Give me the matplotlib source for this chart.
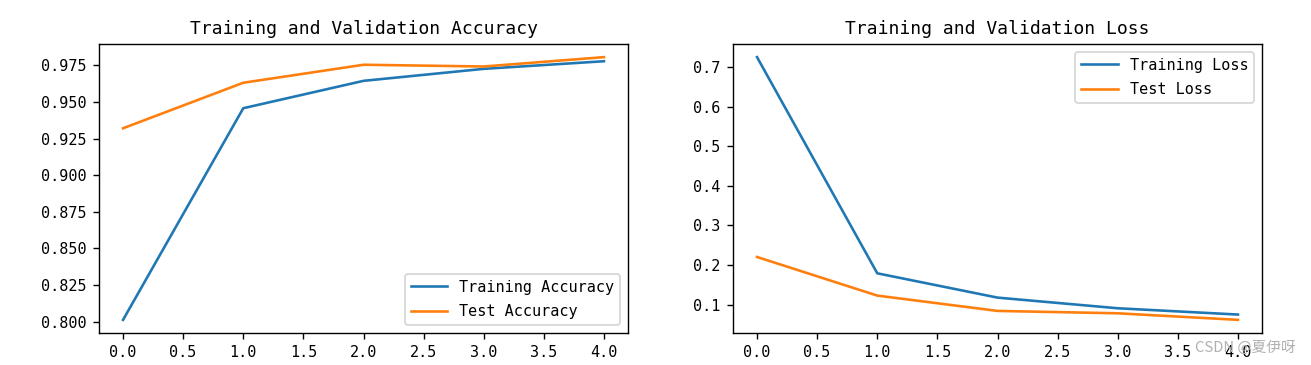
"""
training / validation accuracy and loss over 5 epochs
"""

from matplotlib import pyplot as plt

plt.rcParams['font.family'] = ['DejaVu Sans Mono', 'Noto Sans CJK SC']
plt.rcParams['axes.unicode_minus'] = False

epochs = [0, 1, 2, 3, 4]
train_acc = [0.8012, 0.9458, 0.9645, 0.9727, 0.9779]
test_acc = [0.9321, 0.9632, 0.9755, 0.9743, 0.9807]
train_loss = [0.725, 0.179, 0.1176, 0.0907, 0.0748]
test_loss = [0.2202, 0.1227, 0.0840, 0.0780, 0.0614]

plt.close('all')
fig = plt.figure(figsize=(1311/125., 365/125.), dpi=125)
W, H = 1311., 365.
ax1 = fig.add_axes([99/W, 1-333/H, (628-99)/W, (333-44)/H])
ax2 = fig.add_axes([733/W, 1-333/H, (1262-733)/W, (333-44)/H])

tick_fs = 8.7
title_fs = 10.4

ax1.plot(epochs, train_acc, label='Training Accuracy')
ax1.plot(epochs, test_acc, label='Test Accuracy')
ax1.legend(loc='lower right', fontsize=tick_fs, handlelength=2.4, labelspacing=0.65)
ax1.set_title('Training and Validation Accuracy', fontsize=title_fs)

ax2.plot(epochs, train_loss, label='Training Loss')
ax2.plot(epochs, test_loss, label='Test Loss')
ax2.legend(loc='upper right', fontsize=tick_fs, handlelength=2.4, labelspacing=0.65)
ax2.set_title('Training and Validation Loss', fontsize=title_fs)

for ax in (ax1, ax2):
    ax.tick_params(labelsize=tick_fs)

# watermark
fig.text(1296/W, 1-348/H, 'CSDN @夏伊呀', ha='right', va='center',
         fontsize=8.5, color='#b0b0b0', family=['Noto Sans CJK SC', 'DejaVu Sans'])

fig.savefig('out.png', dpi=125)
